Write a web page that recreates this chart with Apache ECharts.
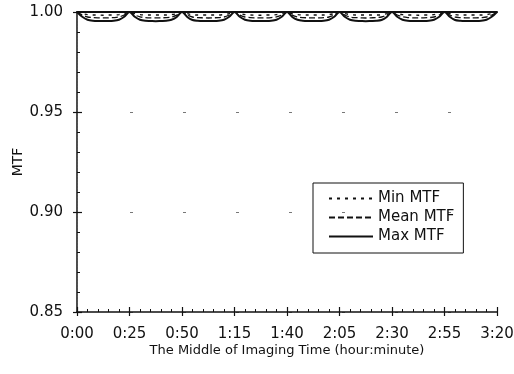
<!DOCTYPE html>
<html>
<head>
<meta charset="utf-8">
<script src="https://cdn.jsdelivr.net/npm/echarts@6/dist/echarts.min.js"></script>
<style>html,body{margin:0;padding:0;background:#fff}#c{width:514px;height:374px}</style>
</head>
<body>
<div id="c"></div>
<script>
const timeTickLabels = ['0:00','0:25','0:50','1:15','1:40','2:05','2:30','2:55','3:20'];
const yTickLabels = ['0.85','0.90','0.95','1.00'];
const seriesNames = ['Min MTF','Mean MTF','Max MTF'];

const minutes = [
  0,2.5,5,7.5,10,12.5,15,17.5,20,22.5,
  25,27.5,30,32.5,35,37.5,40,42.5,45,47.5,
  50,52.5,55,57.5,60,62.5,65,67.5,70,72.5,
  75,77.5,80,82.5,85,87.5,90,92.5,95,97.5,
  100,102.5,105,107.5,110,112.5,115,117.5,120,122.5,
  125,127.5,130,132.5,135,137.5,140,142.5,145,147.5,
  150,152.5,155,157.5,160,162.5,165,167.5,170,172.5,
  175,177.5,180,182.5,185,187.5,190,192.5,195,197.5,
  200
];

const minMTF = [
  1.0000,0.9992,0.9987,0.9985,0.9985,0.9984,0.9985,0.9985,0.9987,0.9992,
  1.0000,0.9992,0.9987,0.9985,0.9985,0.9985,0.9985,0.9985,0.9987,0.9991,
  1.0000,0.9992,0.9986,0.9985,0.9985,0.9985,0.9985,0.9985,0.9987,0.9992,
  1.0000,0.9992,0.9987,0.9985,0.9984,0.9984,0.9985,0.9985,0.9987,0.9992,
  1.0000,0.9991,0.9987,0.9985,0.9985,0.9985,0.9985,0.9985,0.9987,0.9992,
  1.0000,0.9992,0.9987,0.9985,0.9985,0.9985,0.9985,0.9985,0.9986,0.9992,
  1.0000,0.9992,0.9987,0.9985,0.9985,0.9984,0.9985,0.9985,0.9987,0.9992,
  1.0000,0.9992,0.9987,0.9985,0.9985,0.9985,0.9985,0.9985,0.9987,0.9992,
  1.0000
];

const meanMTF = [
  1.0000,0.9985,0.9975,0.9972,0.9971,0.9971,0.9971,0.9972,0.9975,0.9985,
  1.0000,0.9985,0.9976,0.9972,0.9971,0.9971,0.9971,0.9972,0.9975,0.9984,
  1.0000,0.9985,0.9975,0.9972,0.9971,0.9970,0.9971,0.9972,0.9975,0.9985,
  1.0000,0.9985,0.9975,0.9972,0.9971,0.9971,0.9971,0.9972,0.9976,0.9985,
  1.0000,0.9984,0.9975,0.9972,0.9971,0.9971,0.9971,0.9972,0.9975,0.9985,
  1.0000,0.9985,0.9975,0.9972,0.9971,0.9970,0.9971,0.9972,0.9975,0.9985,
  1.0000,0.9985,0.9976,0.9972,0.9971,0.9971,0.9971,0.9972,0.9975,0.9985,
  1.0000,0.9985,0.9975,0.9972,0.9971,0.9971,0.9971,0.9972,0.9975,0.9985,
  1.0000
];

const maxMTF = [
  1.0000,0.9976,0.9961,0.9956,0.9955,0.9955,0.9955,0.9956,0.9961,0.9976,
  1.0000,0.9976,0.9961,0.9956,0.9955,0.9954,0.9955,0.9956,0.9961,0.9975,
  1.0000,0.9975,0.9960,0.9956,0.9955,0.9955,0.9955,0.9956,0.9961,0.9976,
  1.0000,0.9976,0.9961,0.9956,0.9955,0.9955,0.9955,0.9956,0.9961,0.9976,
  1.0000,0.9975,0.9961,0.9956,0.9955,0.9955,0.9955,0.9956,0.9961,0.9976,
  1.0000,0.9976,0.9961,0.9956,0.9955,0.9954,0.9955,0.9956,0.9960,0.9975,
  1.0000,0.9976,0.9961,0.9956,0.9955,0.9955,0.9955,0.9956,0.9961,0.9976,
  1.0000,0.9976,0.9960,0.9956,0.9955,0.9955,0.9955,0.9956,0.9961,0.9976,
  1.0000
];

const pair = arr => minutes.map((m, i) => [m, arr[i]]);
const FONT = 'DejaVu Sans';
const INK = '#111';

const chart = echarts.init(document.getElementById('c'), null, {renderer: 'canvas'});
chart.setOption({
  animation: false,
  backgroundColor: '#fff',
  grid: {left: 77, right: 17, top: 12, bottom: 62, containLabel: false, outerBoundsMode: 'none'},
  legend: {
    orient: 'vertical',
    left: 313, top: 183,
    data: seriesNames,
    itemWidth: 44, itemHeight: 12, itemGap: 4, itemTextGap: 4,
    padding: [8, 9, 9, 15],
    borderColor: INK, borderWidth: 1,
    itemStyle: {opacity: 0},
    textStyle: {fontFamily: FONT, fontSize: 15, color: INK}
  },
  xAxis: [{
    type: 'value', min: 0, max: 200, interval: 25,
    name: 'The Middle of Imaging Time (hour:minute)',
    nameLocation: 'middle', nameGap: 32, nameMoveOverlap: false,
    nameTextStyle: {fontFamily: FONT, fontSize: 13, color: INK},
    axisLine: {show: true, lineStyle: {color: INK, width: 1.5}},
    axisTick: {show: true, inside: true, length: 5, lineStyle: {color: INK, width: 1.2}},
    minorTick: {show: true, splitNumber: 5, length: 3, lineStyle: {color: INK, width: 1}},
    axisLabel: {fontFamily: FONT, fontSize: 15, color: INK, margin: 15,
      formatter: v => timeTickLabels[Math.round(v / 25)]},
    splitLine: {show: false}
  }, {
    type: 'value', min: 0, max: 200, interval: 25, position: 'bottom',
    axisLine: {show: false},
    axisTick: {show: true, inside: false, length: 4, lineStyle: {color: INK, width: 1.2}},
    axisLabel: {show: false}, splitLine: {show: false}
  }, {
    type: 'value', min: 0, max: 200, position: 'top',
    axisLine: {show: true, lineStyle: {color: INK, width: 2}},
    axisTick: {show: false}, axisLabel: {show: false}, splitLine: {show: false}
  }],
  yAxis: [{
    type: 'value', min: 0.85, max: 1.0, interval: 0.05,
    name: 'MTF', nameLocation: 'middle', nameGap: 52, nameMoveOverlap: false,
    nameTextStyle: {fontFamily: FONT, fontSize: 14, color: INK},
    axisLine: {show: true, lineStyle: {color: INK, width: 1.5}},
    axisTick: {show: true, inside: true, length: 5, lineStyle: {color: INK, width: 1.2}},
    minorTick: {show: true, splitNumber: 5, length: 3, lineStyle: {color: INK, width: 1}},
    axisLabel: {fontFamily: FONT, fontSize: 15, color: INK, margin: 14,
      formatter: v => yTickLabels[Math.round((v - 0.85) / 0.05)]},
    splitLine: {show: true, lineStyle: {color: '#777', width: 1, type: [3, 50]}}
  }, {
    type: 'value', min: 0.85, max: 1.0, interval: 0.05, position: 'left',
    axisLine: {show: false},
    axisTick: {show: true, inside: false, length: 4, lineStyle: {color: INK, width: 1.2}},
    axisLabel: {show: false}, splitLine: {show: false}
  }, {
    type: 'value', min: 0.85, max: 1.0, position: 'right',
    axisLine: {show: true, lineStyle: {color: '#555', width: 1, type: [1, 2]}},
    axisTick: {show: false}, axisLabel: {show: false}, splitLine: {show: false}
  }],
  series: [
    {name: seriesNames[0], type: 'line', data: pair(minMTF), symbol: 'none', smooth: 0.3,
     lineStyle: {color: INK, width: 1.4, type: [3, 5]}, itemStyle: {color: INK}},
    {name: seriesNames[1], type: 'line', data: pair(meanMTF), symbol: 'none', smooth: 0.3,
     lineStyle: {color: INK, width: 1.3, type: [6, 3]}, itemStyle: {color: INK}},
    {name: seriesNames[2], type: 'line', data: pair(maxMTF), symbol: 'none', smooth: 0.3,
     lineStyle: {color: INK, width: 2}, itemStyle: {color: INK}}
  ]
});
</script>
</body>
</html>
